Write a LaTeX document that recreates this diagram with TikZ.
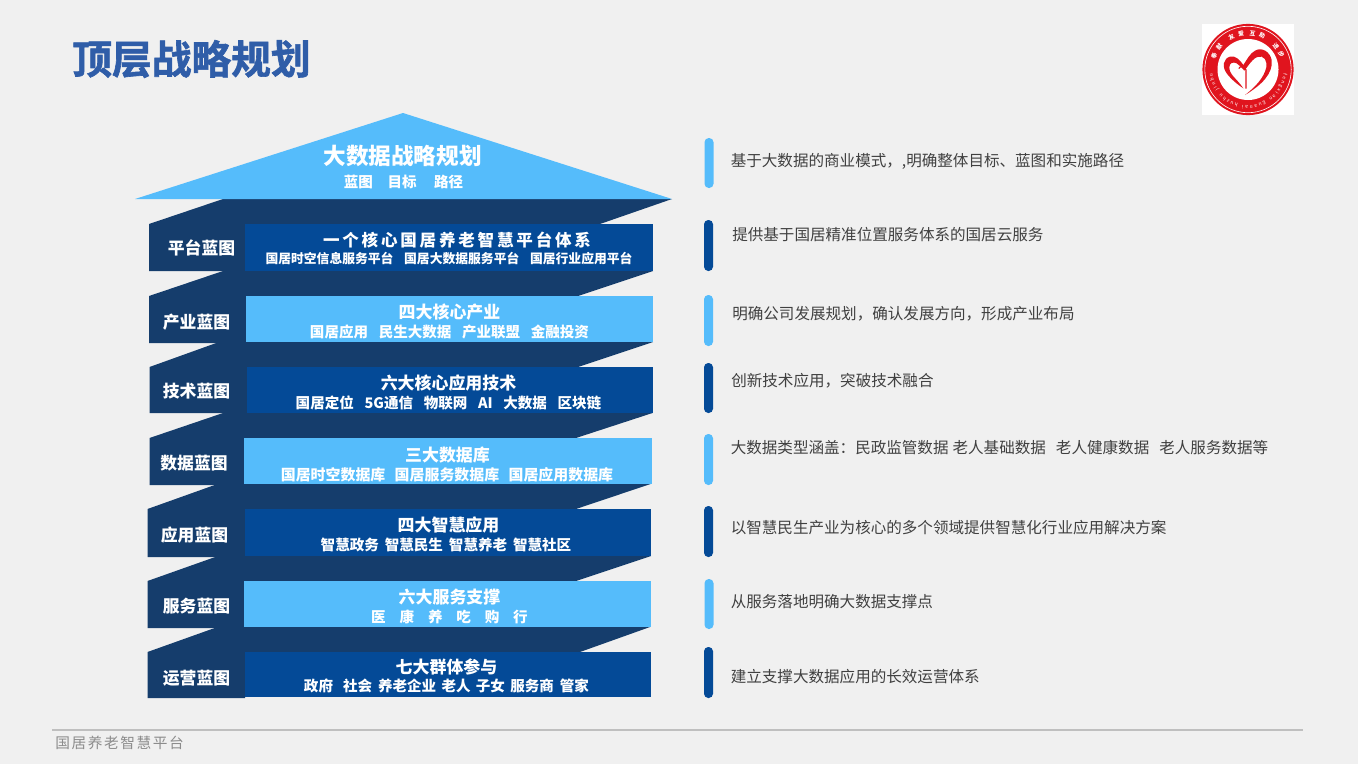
\documentclass[tikz,border=0pt]{standalone}
\usetikzlibrary{calc,decorations.text}
\usepackage{fontspec}
\setmainfont{Noto Sans CJK SC}
\newfontfamily\cjk{Noto Sans CJK SC}
\newfontfamily\cjkspaced[LetterSpace=17]{Noto Sans CJK SC}
\newfontfamily\footspaced[LetterSpace=11]{Noto Sans CJK SC}
\newfontfamily\titlefont[FakeBold=1.6]{Noto Sans CJK SC Bold}
\definecolor{bgc}{HTML}{F0F0F0}
\definecolor{lightb}{HTML}{55BCFB}
\definecolor{darkb}{HTML}{153D6C}
\definecolor{boxb}{HTML}{044A97}
\definecolor{titleb}{HTML}{2F5DA8}
\definecolor{notec}{HTML}{404040}
\definecolor{logored}{HTML}{E0141E}
\tikzset{
  band/.style={fill=darkb,draw=none},
  lightbox/.style={fill=lightb,draw=none},
  deepbox/.style={fill=boxb,draw=none},
  whitetext/.style={text=white,inner sep=0pt,font=\cjk\bfseries},
  rooftitle/.style={whitetext,font=\cjk\bfseries\fontsize{16.95pt}{18pt}\selectfont},
  boxtitle/.style={whitetext,font=\cjk\bfseries\fontsize{12.7pt}{14pt}\selectfont},
  boxsub/.style={whitetext,font=\cjk\bfseries\fontsize{10.9pt}{12pt}\selectfont},
  smallsub/.style={whitetext,font=\cjk\bfseries\fontsize{9.6pt}{11pt}\selectfont},
  tierlabel/.style={whitetext,font=\cjk\bfseries\fontsize{12.6pt}{14pt}\selectfont},
  note/.style={anchor=west,inner sep=0pt,text=notec,font=\cjk\fontsize{11.67pt}{13pt}\selectfont},
  barlight/.style={fill=lightb,draw=none,rounded corners=3.2pt},
  bardeep/.style={fill=boxb,draw=none,rounded corners=3.2pt},
  logotop/.style={inner sep=0pt,text=white,font=\cjk\bfseries\fontsize{4.4pt}{5pt}\selectfont}
}
\begin{document}
\begin{tikzpicture}[x=0.75pt,y=-0.75pt]
\fill[bgc] (0,0) rectangle (1358,764);
\useasboundingbox (0,0) rectangle (1358,764);
% title
\node[inner sep=0pt,anchor=center,text=titleb,font=\titlefont\fontsize{29.8pt}{32pt}\selectfont] (title) at (191.5,59) {顶层战略规划};
% tiers (dark backing)
\fill[band] (149,224)--(223,199)--(672,199)--(600,224)--(245,224)--(245,271)--(149,271)--cycle;
\fill[band] (149,296)--(223,271)--(653,271)--(578,296)--(246,296)--(246,343)--(149,343)--cycle;
\fill[band] (149.5,367)--(219,342)--(653,342)--(578,367)--(247,367)--(247,413)--(149.5,413)--cycle;
\fill[band] (149.5,438)--(223,413)--(652.5,413)--(576,438)--(244,438)--(244,485)--(149.5,485)--cycle;
\fill[band] (147.5,509)--(217.5,484)--(650.5,484)--(576,509)--(245,509)--(245,557)--(147.5,557)--cycle;
\fill[band] (147.5,581)--(218,556)--(651,556)--(576,581)--(244,581)--(244,628)--(147.5,628)--cycle;
\fill[band] (147.5,652)--(217.5,627)--(650,627)--(580,652)--(245,652)--(245,698)--(147.5,698)--cycle;
% roof
\fill[lightb] (403,113)--(672,199)--(135,199)--cycle;
\node[rooftitle] (rooft) at (402.5,155.5) {大数据战略规划};
\node[boxsub] (roofs) at (403.5,181.5) {蓝图\hspace{11pt}目标\hspace{13pt}路径};
% boxes
\fill[deepbox] (245,224) rectangle (653,271);
\fill[lightbox] (246,296) rectangle (653,342);
\fill[deepbox] (247,367) rectangle (653,413);
\fill[lightbox] (244,438) rectangle (652,484);
\fill[deepbox] (245,509) rectangle (651,556);
\fill[lightbox] (244,581) rectangle (651,627);
\fill[deepbox] (245,652) rectangle (651,697);
% tier labels
\node[tierlabel] (l1) at (201.5,247.5) {平台蓝图};
\node[tierlabel] (l2) at (196.5,322) {产业蓝图};
\node[tierlabel] (l3) at (196.5,391.5) {技术蓝图};
\node[tierlabel] (l4) at (194,463) {数据蓝图};
\node[tierlabel] (l5) at (194.5,535.5) {应用蓝图};
\node[tierlabel] (l6) at (196.5,606.5) {服务蓝图};
\node[tierlabel] (l7) at (196.5,678) {运营蓝图};
% box texts
\node[whitetext,font=\cjkspaced\bfseries\fontsize{12.4pt}{14pt}\selectfont] (t1) at (457,240.5) {一个核心国居养老智慧平台体系};
\node[smallsub] (s1) at (449,258.5) {国居时空信息服务平台\hspace{8pt}国居大数据服务平台\hspace{8pt}国居行业应用平台};
\node[boxtitle] (t2) at (449.5,312.5) {四大核心产业};
\node[boxsub] (s2) at (449.5,331.5) {国居应用\hspace{8pt}民生大数据\hspace{8pt}产业联盟\hspace{8pt}金融投资};
\node[boxtitle] (t3) at (448.5,383.5) {六大核心应用技术};
\node[boxsub] (s3) at (448.5,402.5) {国居定位\hspace{8pt}5G通信\hspace{8pt}物联网\hspace{8pt}AI\hspace{8pt}大数据\hspace{8pt}区块链};
\node[boxtitle] (t4) at (447.5,455.5) {三大数据库};
\node[boxsub,font=\cjk\bfseries\fontsize{11.2pt}{12pt}\selectfont] (s4) at (447,474.5) {国居时空数据库\hspace{7pt}国居服务数据库\hspace{7pt}国居应用数据库};
\node[boxtitle] (t5) at (448.5,525.5) {四大智慧应用};
\node[boxsub] (s5) at (446,544.5) {智慧政务\hspace{4.5pt}智慧民生\hspace{4.5pt}智慧养老\hspace{4.5pt}智慧社区};
\node[boxtitle] (t6) at (449.5,597.5) {六大服务支撑};
\node[boxsub] (s6) at (449.5,616.5) {医\hspace{10.4pt}康\hspace{10.4pt}养\hspace{10.4pt}吃\hspace{10.4pt}购\hspace{10.4pt}行};
\node[boxtitle] (t7) at (446.5,666.5) {七大群体参与};
\node[boxsub] (s7) at (446.5,685.5) {政府\hspace{7.5pt}社会\hspace{4.5pt}养老企业\hspace{4pt}老人\hspace{4pt}子女\hspace{4pt}服务商\hspace{4.5pt}管家};
% bars
\fill[barlight] (704.5,138) rectangle (713.5,188);
\fill[bardeep] (704,220) rectangle (713,271);
\fill[barlight] (704,295) rectangle (713,346);
\fill[bardeep] (704,363) rectangle (713,413);
\fill[barlight] (704,434) rectangle (713,485);
\fill[bardeep] (704,506) rectangle (713,557);
\fill[barlight] (704.5,579) rectangle (713.5,629);
\fill[bardeep] (704,647) rectangle (713,698);
% notes
\node[note] (n1) at (730.5,161) {基于大数据的商业模式，,明确整体目标、蓝图和实施路径};
\node[note] (n2) at (732,235) {提供基于国居精准位置服务体系的国居云服务};
\node[note] (n3) at (732,314) {明确公司发展规划，确认发展方向，形成产业布局};
\node[note] (n4) at (731,381) {创新技术应用，突破技术融合};
\node[note] (n5) at (730.5,448) {大数据类型涵盖：民政监管数据\hspace{3pt}老人基础数据\hspace{7.5pt}老人健康数据\hspace{7.5pt}老人服务数据等};
\node[note] (n6) at (730.5,528) {以智慧民生产业为核心的多个领域提供智慧化行业应用解决方案};
\node[note] (n7) at (730.5,602) {从服务落地明确大数据支撑点};
\node[note] (n8) at (730.5,677) {建立支撑大数据应用的长效运营体系};
% footer
\draw[line width=1.1pt,draw=black!25] (52,730)--(1303,730);
\node[anchor=west,inner sep=0pt,text=black!45,font=\footspaced\fontsize{11pt}{12pt}\selectfont] (foot) at (55,743) {国居养老智慧平台};
% logo
\fill[white] (1202,24) rectangle (1294,115);
\coordinate (lc) at (1248,69.5);
\fill[logored] (lc) circle[radius=45.6];
\draw[white,line width=0.45pt] (lc) circle[radius=43.2];
\fill[white] (lc) circle[radius=30.5];
\foreach \ch/\ang [count=\i] in {奉/158,献/142,友/117,爱/101,互/83,助/67,进/40,步/25}{
  \node[logotop,rotate=\ang-90] (lt\i) at ($(lc)+(\ang:36.5 and -36.5)$) {\ch};
}
\path[decorate,decoration={text along path,text align=fit to path,
  text={|\cjk\fontsize{3.6pt}{4pt}\selectfont\color{white}|fengxian guanai huzhu jinbu}}]
  ($(lc)+(6:35.8 and 35.8)$) arc[start angle=6,end angle=174,radius=35.8];
\begin{scope}[shift={(1190,10)},x=0.25pt,y=-0.25pt]
\fill[logored] (165,255) .. controls (215,225) and (250,190) .. (245,150)
  .. controls (240,125) and (215,110) .. (195,122)
  .. controls (180,130) and (170,150) .. (160,165)
  .. controls (150,150) and (135,135) .. (120,140)
  .. controls (100,145) and (95,170) .. (110,190)
  .. controls (125,210) and (145,225) .. (160,235)
  .. controls (140,205) and (118,195) .. (118,172)
  .. controls (118,158) and (130,155) .. (140,160)
  .. controls (150,165) and (155,175) .. (163,182)
  .. controls (180,160) and (195,135) .. (215,140)
  .. controls (232,145) and (232,170) .. (225,185)
  .. controls (212,215) and (190,235) .. (165,255) -- cycle;
\draw[logored,line width=0.9pt,line cap=round] (147,175) .. controls (150,168) and (165,165) .. (168,180) -- (168,235);
\end{scope}
\end{tikzpicture}
\end{document}
